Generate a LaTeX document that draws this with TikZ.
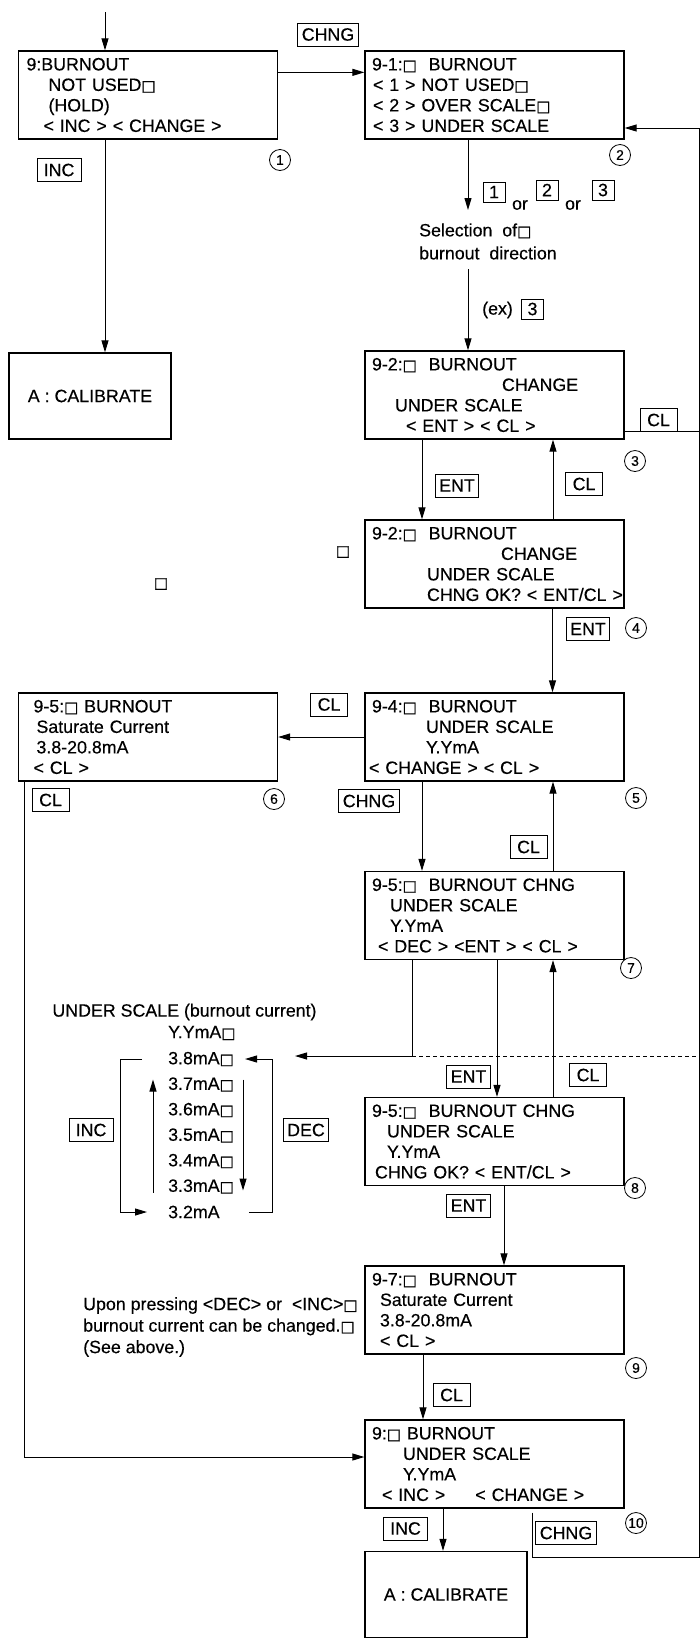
\documentclass[tikz,border=0pt]{standalone}
\usepackage{fontspec}
\setmainfont{Liberation Sans}[FakeBold=0.35]
\newfontfamily\symfont{DejaVu Sans}[FakeBold=1.2]
\usetikzlibrary{arrows.meta,positioning}
\newcommand\sq{{\symfont\fontsize{15}{15}\selectfont □}}
\tikzset{
  >={Triangle[length=12pt,width=7pt]},
  % screens
  scr/.style={draw,line width=1.3pt,align=left,text width=259pt,inner xsep=0pt,
              inner ysep=0pt,minimum height=88pt,font=\fontsize{17.8}{20.5}\selectfont},
  cal/.style={draw,line width=1.3pt,minimum width=162pt,minimum height=86pt,
              inner sep=0pt,font=\fontsize{17.8}{20.5}\selectfont},
  % keys
  key/.style={draw,line width=0.9pt,inner xsep=4pt,inner ysep=0pt,minimum height=23pt,
              font=\fontsize{17.8}{20}\selectfont},
  dig/.style={key,minimum width=22pt,minimum height=20pt,inner xsep=0pt},
  num/.style={circle,draw,line width=0.8pt,minimum size=21pt,inner sep=0pt,
              font=\fontsize{14}{14}\selectfont},
  txt/.style={inner sep=0pt,align=left,font=\fontsize{17.8}{22.5}\selectfont},
  arr/.style={->,line width=1pt},
  ln/.style={line width=1pt},
}
\begin{document}
\begin{tikzpicture}[x=1pt,y=-1pt]
  \useasboundingbox (0,0) rectangle (700,1642);
  % screens
  \node[scr] (s1) at (148,95) {\hspace*{8pt}9:BURNOUT\\\hspace*{30pt}NOT USED\sq\\
    \hspace*{30pt}(HOLD)\\\hspace*{25pt}< INC > < CHANGE >};
  \node[scr] (s2) at (494.5,95) {\hspace*{7pt}9-1:\sq\ \ BURNOUT\\\hspace*{8pt}< 1 > NOT USED\sq\\
    \hspace*{8pt}< 2 > OVER SCALE\sq\\\hspace*{8pt}< 3 > UNDER SCALE};
  \node[cal] (cal1) at (90,396) {A : CALIBRATE};
  \node[scr] (s3) at (494.5,395) {\hspace*{7pt}9-2:\sq\ \ BURNOUT\\\hspace*{137pt}CHANGE\\
    \hspace*{30pt}UNDER SCALE\\\hspace*{41pt}< ENT > < CL >};
  \node[scr] (s4) at (494.5,564) {\hspace*{7pt}9-2:\sq\ \ BURNOUT\\\hspace*{136pt}CHANGE\\
    \hspace*{62pt}UNDER SCALE\\\hspace*{62pt}CHNG OK? < ENT/CL >};
  \node[scr] (s5) at (494.5,737) {\hspace*{7pt}9-4:\sq\ \ BURNOUT\\\hspace*{61pt}UNDER SCALE\\
    \hspace*{61pt}Y.YmA\\\hspace*{4pt}< CHANGE > < CL >};
  \node[scr] (s6) at (148,737) {\hspace*{15pt}9-5:\sq\ BURNOUT\\\hspace*{18pt}Saturate Current\\
    \hspace*{18pt}3.8-20.8mA\\\hspace*{15pt}< CL >};
  \node[scr] (s7) at (494.5,915.5) {\hspace*{7pt}9-5:\sq\ \ BURNOUT CHNG\\\hspace*{25pt}UNDER SCALE\\
    \hspace*{25pt}Y.YmA\\\hspace*{13pt}< DEC > <ENT > < CL >};
  \node[scr] (s8) at (494.5,1141.5) {\hspace*{7pt}9-5:\sq\ \ BURNOUT CHNG\\\hspace*{22pt}UNDER SCALE\\
    \hspace*{22pt}Y.YmA\\\hspace*{10pt}CHNG OK? < ENT/CL >};
  \node[scr] (s9) at (494.5,1310) {\hspace*{7pt}9-7:\sq\ \ BURNOUT\\\hspace*{15pt}Saturate Current\\
    \hspace*{15pt}3.8-20.8mA\\\hspace*{15pt}< CL >};
  \node[scr] (s10) at (494.5,1464) {\hspace*{7pt}9:\sq\ BURNOUT\\\hspace*{38pt}UNDER SCALE\\
    \hspace*{38pt}Y.YmA\\\hspace*{17pt}< INC >\hspace*{30pt}< CHANGE >};
  \node[cal] (cal2) at (446,1594.5) {A : CALIBRATE};
  % texts
  \node[txt,font=\fontsize{17.8}{23}\selectfont,anchor=west] (sel) at (419,241.5)
    {Selection\ \ of\sq\\burnout\ \ direction};
  \node[txt] (or1) at (520,205) {or};
  \node[txt] (or2) at (573,205) {or};
  \node[txt,anchor=west] (ex) at (482,310) {(ex)};
  \node[txt] (ustitle) at (184.5,1012) {UNDER SCALE (burnout current)};
  \node[txt,anchor=west] (vy) at (168,1033) {Y.YmA\sq};
  \foreach \v [count=\i] in {3.8,3.7,3.6,3.5,3.4,3.3}
    \node[txt,anchor=west] (v\i) at (168,{1059+25.5*(\i-1)}) {\v mA\sq};
  \node[txt,anchor=west] (v7) at (168,1212) {3.2mA};
  \node[txt,font=\fontsize{17.8}{21.5}\selectfont,anchor=west] (upon) at (83,1327)
    {Upon pressing <DEC> or\ \ <INC>\sq\\burnout current can be changed.\sq\\(See above.)};
  \node[inner sep=0pt] (sqa) at (343,552) {\sq};
  \node[inner sep=0pt] (sqb) at (161,584) {\sq};
  % keys
  \node[key] (kchng1) at (328,34.5) {CHNG};
  \node[key,minimum width=44pt] (kinc1) at (59,170) {INC};
  \node[dig] (kd1) at (494,192) {1};
  \node[dig] (kd2) at (547,190) {2};
  \node[dig] (kd3) at (603,190) {3};
  \node[dig] (kex) at (532.5,309) {3};
  \node[key,minimum width=37pt] (kcl1) at (658.5,420) {CL};
  \node[key] (kent1) at (457,485.5) {ENT};
  \node[key,minimum width=37pt] (kcl2) at (584,484) {CL};
  \node[key] (kent2) at (588,629) {ENT};
  \node[key,minimum width=37pt] (kcl3) at (329,704.5) {CL};
  \node[key,minimum width=37pt] (kcl4) at (50.5,800) {CL};
  \node[key] (kchng2) at (369,801) {CHNG};
  \node[key,minimum width=37pt] (kcl5) at (528.5,847) {CL};
  \node[key] (kent3) at (468.5,1076.5) {ENT};
  \node[key,minimum width=37pt] (kcl6) at (588,1075) {CL};
  \node[key] (kent4) at (468.5,1205.5) {ENT};
  \node[key,minimum width=37pt] (kcl7) at (451.5,1395) {CL};
  \node[key,minimum width=44pt] (kinc2) at (405.5,1528.5) {INC};
  \node[key] (kchng3) at (566,1533) {CHNG};
  \node[key,minimum width=44pt] (kinc3) at (91,1130) {INC};
  \node[key] (kdec) at (306,1130) {DEC};
  % step numbers
  \foreach \i/\x/\y in {1/280/160,2/620/155,3/635/461,4/636/628,5/636/798,
      6/274/799,7/631/968,8/635/1188,9/636/1368,10/636/1523}
    \node[num] (n\i) at (\x,\y) {\i};
  % connectors
  \coordinate (entry) at (105,12);
  \coordinate (selin) at (468,210);
  \coordinate (selout) at (468,269);
  \coordinate (railcl) at (699,431);
  \coordinate (railbot) at (699,1557);
  \coordinate (decturn) at (412,1056);
  \coordinate (dectip) at (295,1056);
  \coordinate (dashend) at (699,1056);
  \draw[arr] (entry) -- (entry |- s1.north);
  \draw[arr] ([yshift=-22pt]s1.north east) -- ([yshift=-22pt]s2.north west);
  \draw[arr] (s1.south -| entry) -- (cal1.north -| entry);
  \draw[arr] (s2.south -| selin) -- (selin);
  \draw[arr] (selout) -- (selout |- s3.north);
  \draw[ln] ([yshift=-36pt]s3.east) -- (railcl);
  \draw[arr] ([xshift=-72.5pt]s3.south) -- ([xshift=-72.5pt]s4.north);
  \draw[arr] ([xshift=58.5pt]s4.north) -- ([xshift=58.5pt]s3.south);
  \draw[arr] ([xshift=58pt]s4.south) -- ([xshift=58pt]s5.north);
  \draw[arr] (s5.west) -- (s6.east);
  \draw[arr] ([xshift=7pt]s6.south west) |- ([yshift=7pt]s10.west);
  \draw[arr] ([xshift=-72.5pt]s5.south) -- ([xshift=-72.5pt]s7.north);
  \draw[arr] ([xshift=58.5pt]s7.north) -- ([xshift=58.5pt]s5.south);
  \draw[arr] ([xshift=-82.5pt]s7.south) |- (dectip);
  \draw[ln,dash pattern=on 4pt off 3pt] (decturn) -- (dashend);
  \draw[arr] ([xshift=2.5pt]s7.south) -- ([xshift=2.5pt]s8.north);
  \draw[arr] ([xshift=58.5pt]s8.north) -- ([xshift=58.5pt]s7.south);
  \draw[arr] ([xshift=9.5pt]s8.south) -- ([xshift=9.5pt]s9.north);
  \draw[arr] ([xshift=-71.5pt]s9.south) -- ([xshift=-71.5pt]s10.north);
  \draw[arr] ([xshift=-51.5pt]s10.south) -- ([xshift=-3pt]cal2.north);
  \draw[arr] ([xshift=37.5pt,yshift=-4pt]s10.south) |- (railbot) |- ([yshift=-33pt]s2.east);
  % value list
  \draw[arr] ([xshift=-26pt]v1.west) -- ++(-22pt,0pt) |- ([xshift=-21pt]v7.west);
  \draw[arr] ([xshift=-15pt,yshift=-6pt]v6.west) -- ([xshift=-15pt,yshift=5pt]v2.west);
  \draw[arr] ([xshift=9pt,yshift=5pt]v2.east) -- ([xshift=9pt,yshift=-4pt]v6.east);
  \draw[arr] ([xshift=29pt]v7.east) -- ++(24pt,0pt) |- ([xshift=11pt]v1.east);
\end{tikzpicture}
\end{document}
